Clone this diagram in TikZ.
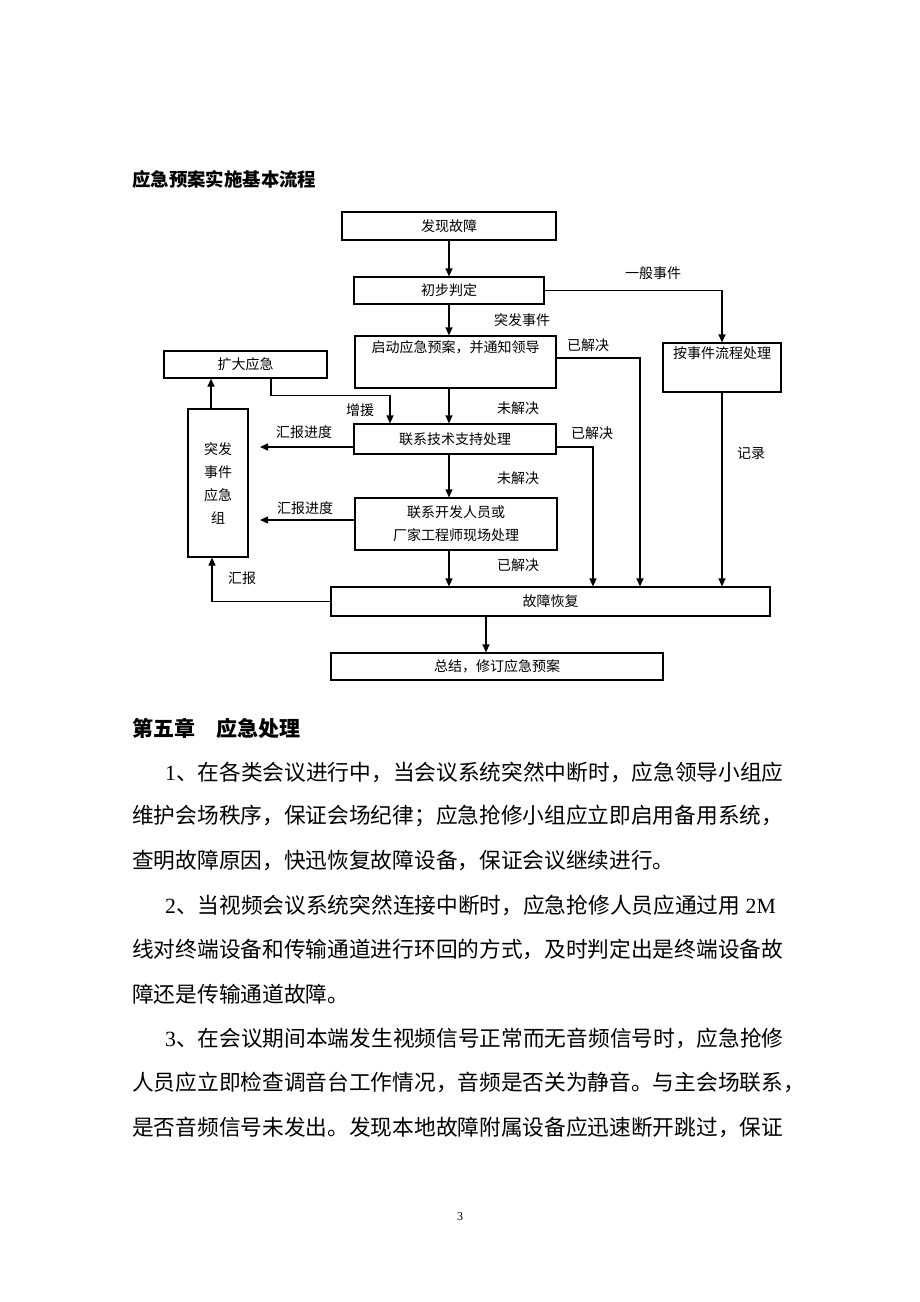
\documentclass[tikz,border=0pt]{standalone}
\usepackage{fontspec}
\setmainfont{Liberation Serif}
\newfontfamily\cjk{Noto Sans CJK SC}
\usetikzlibrary{arrows.meta,positioning}
\newcommand{\linew}{1.2pt}
\newcommand{\chartfont}{\fontsize{14}{23}\cjk}
\newcommand{\bodyfont}{\fontsize{21.7}{26}\selectfont}

\begin{document}
\begin{tikzpicture}[x=1pt,y=-1pt,
    box/.style={draw, line width=\linew, inner sep=0pt, align=center, font=\chartfont},
    flow/.style={line width=\linew, -{Triangle[length=8pt,width=7pt]}},
    tag/.style={inner sep=0pt, font=\chartfont},
    bodyline/.style={anchor=west, inner sep=0pt, font=\bodyfont}]
    \useasboundingbox[fill=white] (0,0) rectangle (920,1302);

    \node[anchor=west, inner sep=0pt, font=\fontsize{18.4}{20}\cjk\bfseries] (title) at (132,179) {应急预案实施基本流程};

    \node[box, minimum width=214, minimum height=28] (faxian) at (449,226) {发现故障};
    \node[box, minimum width=190, minimum height=27] (chubu) at (449,290.5) {初步判定};
    \node[box, minimum width=201, minimum height=52] (qidong) at (455.5,362) {启动应急预案，并通知领导\\\strut};
    \node[box, minimum width=118, minimum height=49] (anjian) at (722,367.5) {按事件流程处理\\\strut};
    \node[box, minimum width=163, minimum height=27] (kuoda) at (245.5,364.5) {扩大应急};
    \node[box, minimum width=60, minimum height=148] (zu) at (218,483) {突发\\事件\\应急\\组};
    \node[box, minimum width=202, minimum height=30] (lianxi) at (455,439) {联系技术支持处理};
    \node[box, minimum width=202, minimum height=52] (kaifa) at (456,524) {联系开发人员或\\厂家工程师现场处理};
    \node[box, minimum width=439, minimum height=29] (huifu) at (550.5,601.5) {故障恢复};
    \node[box, minimum width=332, minimum height=27] (zongjie) at (497,666.5) {总结，修订应急预案};

    \coordinate (rep1) at (260,447);
    \coordinate (rep2) at (260,520);

    \draw[flow] (faxian) -- (chubu);
    \draw[flow] (chubu.south) -- (chubu.south |- qidong.north);
    \draw[flow] (chubu.east) -| (anjian.north);
    \draw[flow] ([yshift=4]qidong.east) -| ([xshift=89.5]huifu.north);
    \draw[flow] ([xshift=-6]lianxi.north |- qidong.south) -- ([xshift=-6]lianxi.north);
    \draw[flow] ([xshift=25.5]kuoda.south) -- ++(0,17) -| ([xshift=-65]lianxi.north);
    \draw[flow] ([xshift=-7]zu.north) -- ([xshift=-7]zu.north |- kuoda.south);
    \draw[flow] ([yshift=-8]lianxi.west) -- (rep1);
    \draw[flow] ([yshift=4]kaifa.west) -- (rep2);
    \draw[flow] ([xshift=-6]lianxi.south) -- ([xshift=-7]kaifa.north);
    \draw[flow] ([yshift=-8]lianxi.east) -| ([xshift=42.5]huifu.north);
    \draw[flow] ([xshift=-7]kaifa.south) -- ([xshift=-101.5]huifu.north);
    \draw[flow] (anjian.south) -- (anjian.south |- huifu.north);
    \draw[flow] (huifu.west) -| ([xshift=-6]zu.south);
    \draw[flow] ([xshift=-64.5]huifu.south) -- ([xshift=-11]zongjie.north);

    \node[tag] (t1) at (653,273) {一般事件};
    \node[tag] (t2) at (522,320) {突发事件};
    \node[tag] (t3) at (588,345) {已解决};
    \node[tag] (t4) at (518,408) {未解决};
    \node[tag] (t5) at (360,410) {增援};
    \node[tag] (t6) at (304,432) {汇报进度};
    \node[tag] (t7) at (592,433) {已解决};
    \node[tag] (t8) at (751,453) {记录};
    \node[tag] (t9) at (518,478) {未解决};
    \node[tag] (t10) at (305,508) {汇报进度};
    \node[tag] (t11) at (518,565) {已解决};
    \node[tag] (t12) at (242,578) {汇报};

    \node[anchor=west, inner sep=0pt, font=\fontsize{21}{24}\cjk\bfseries] (chap) at (132,728) {第五章　应急处理};
    \node[bodyline] (p1a) at (165,772) {1\cjk 、在各类会议进行中，当会议系统突然中断时，应急领导小组应};
    \node[bodyline] (p1b) at (132,816.4) {\cjk 维护会场秩序，保证会场纪律；应急抢修小组应立即启用备用系统，};
    \node[bodyline] (p1c) at (132,860.8) {\cjk 查明故障原因，快迅恢复故障设备，保证会议继续进行。};
    \node[bodyline] (p2a) at (165,905.2) {2\cjk 、当视频会议系统突然连接中断时，应急抢修人员应通过用\rmfamily{} 2M};
    \node[bodyline] (p2b) at (132,949.6) {\cjk 线对终端设备和传输通道进行环回的方式，及时判定出是终端设备故};
    \node[bodyline] (p2c) at (132,994) {\cjk 障还是传输通道故障。};
    \node[bodyline] (p3a) at (165,1038.4) {3\cjk 、在会议期间本端发生视频信号正常而无音频信号时，应急抢修};
    \node[bodyline] (p3b) at (132,1082.8) {\cjk 人员应立即检查调音台工作情况，音频是否关为静音。与主会场联系，};
    \node[bodyline] (p3c) at (132,1127.2) {\cjk 是否音频信号未发出。发现本地故障附属设备应迅速断开跳过，保证};

    \node[inner sep=0pt, font=\fontsize{12}{14}\selectfont] (page) at (460,1217) {3};
\end{tikzpicture}
\end{document}
